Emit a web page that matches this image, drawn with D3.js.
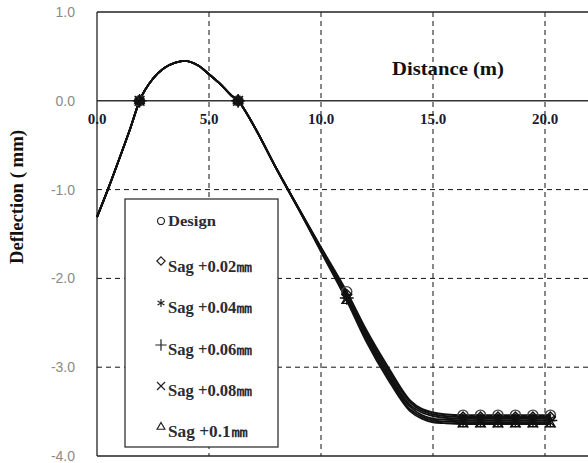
<!DOCTYPE html>
<html>
<head>
<meta charset="utf-8">
<script src="https://cdn.jsdelivr.net/npm/d3@7/dist/d3.min.js"></script>
<style>
  html, body { margin: 0; padding: 0; background: #fff; }
  svg { display: block; overflow: hidden; }
</style>
</head>
<body>
<svg id="chart" width="588" height="463"></svg>
<script>
// Distance along the specimen (m)
const distance = [0, 0.5, 1.0, 1.5, 1.9, 2.5, 3.0, 3.5, 3.9, 4.5, 5.0, 5.5, 6.0, 6.3,
  7.0, 8.0, 9.0, 10.0, 11.15, 12.0, 13.0, 14.0, 14.5, 15.0, 15.5,
  16.34, 17.12, 17.9, 18.68, 19.46, 20.24];

// Deflection (mm) for each case
const design = [-1.31, -0.99, -0.65, -0.30, 0.00, 0.25, 0.37, 0.43, 0.45, 0.40, 0.30, 0.19, 0.06, 0.00,
  -0.28, -0.76, -1.21, -1.65, -2.15, -2.57, -3.00, -3.38, -3.47, -3.51, -3.53,
  -3.54, -3.54, -3.54, -3.54, -3.54, -3.54];
const sag002 = [-1.31, -0.99, -0.65, -0.30, 0.00, 0.25, 0.37, 0.43, 0.45, 0.40, 0.30, 0.19, 0.06, 0.00,
  -0.28, -0.76, -1.21, -1.66, -2.18, -2.60, -3.03, -3.40, -3.49, -3.53, -3.55,
  -3.56, -3.56, -3.56, -3.56, -3.56, -3.56];
const sag004 = [-1.31, -0.99, -0.65, -0.30, 0.00, 0.25, 0.37, 0.43, 0.45, 0.40, 0.30, 0.19, 0.06, 0.00,
  -0.28, -0.76, -1.21, -1.67, -2.20, -2.62, -3.06, -3.43, -3.51, -3.55, -3.57,
  -3.58, -3.58, -3.58, -3.58, -3.58, -3.58];
const sag006 = [-1.31, -0.99, -0.65, -0.30, 0.00, 0.25, 0.37, 0.43, 0.45, 0.40, 0.30, 0.19, 0.06, 0.00,
  -0.28, -0.76, -1.22, -1.68, -2.22, -2.65, -3.09, -3.45, -3.54, -3.58, -3.59,
  -3.60, -3.60, -3.60, -3.60, -3.60, -3.60];
const sag008 = [-1.31, -0.99, -0.65, -0.30, 0.00, 0.25, 0.37, 0.43, 0.45, 0.40, 0.30, 0.19, 0.06, 0.00,
  -0.28, -0.76, -1.22, -1.69, -2.23, -2.67, -3.11, -3.48, -3.56, -3.60, -3.61,
  -3.62, -3.62, -3.62, -3.62, -3.62, -3.62];
const sag010 = [-1.31, -0.99, -0.65, -0.30, 0.00, 0.25, 0.37, 0.43, 0.45, 0.40, 0.30, 0.19, 0.06, 0.00,
  -0.28, -0.76, -1.22, -1.70, -2.25, -2.70, -3.14, -3.50, -3.58, -3.62, -3.63,
  -3.64, -3.64, -3.64, -3.64, -3.64, -3.64];

// Measurement points where markers are shown
const markerDistance = [1.9, 6.3, 11.15, 16.34, 17.12, 17.9, 18.68, 19.46, 20.24];

const seriesNames = ["Design", "Sag +0.02\u339c", "Sag +0.04\u339c", "Sag +0.06\u339c", "Sag +0.08\u339c", "Sag +0.1\u339c"];
const seriesValues = [design, sag002, sag004, sag006, sag008, sag010];

const xTicks = [0, 5, 10, 15, 20];
const yTicks = [1, 0, -1, -2, -3, -4];

const symbolTypes = [d3.symbolCircle, d3.symbolDiamond2, d3.symbolAsterisk, d3.symbolPlus, d3.symbolX, d3.symbolTriangle2];

const svg = d3.select("#chart");
const plotLeft = 97, plotTop = 12, plotBottom = 456;

const x = d3.scaleLinear().domain([0, 22.5]).range([plotLeft, plotLeft + 22.5 * 22.4]);
const y = d3.scaleLinear().domain([1, -4]).range([plotTop, plotBottom]);
const plotRight = x(22.5);

const serif = "'Liberation Serif', 'Times New Roman', serif";

// dashed grid
const grid = svg.append("g").attr("stroke", "#111").attr("stroke-width", 1).attr("stroke-dasharray", "5,4");
grid.selectAll("line.v").data(xTicks.filter(d => d > 0)).join("line").attr("class", "v")
  .attr("x1", d => x(d)).attr("x2", d => x(d)).attr("y1", plotTop).attr("y2", plotBottom);
grid.selectAll("line.h").data(yTicks.filter(d => d < 0 && d > -4)).join("line").attr("class", "h")
  .attr("x1", plotLeft).attr("x2", plotRight).attr("y1", d => y(d)).attr("y2", d => y(d));

// zero line acting as the distance axis
svg.append("line").attr("x1", plotLeft).attr("x2", plotRight).attr("y1", y(0)).attr("y2", y(0))
  .attr("stroke", "#333").attr("stroke-width", 1.5);

// frame
svg.append("line").attr("x1", plotLeft).attr("x2", plotRight).attr("y1", plotTop).attr("y2", plotTop)
  .attr("stroke", "#222").attr("stroke-width", 1.3);
svg.append("line").attr("x1", plotLeft).attr("x2", plotRight).attr("y1", plotBottom).attr("y2", plotBottom)
  .attr("stroke", "#222").attr("stroke-width", 1.3);
svg.append("line").attr("x1", plotLeft).attr("x2", plotLeft).attr("y1", plotTop).attr("y2", plotBottom)
  .attr("stroke", "#222").attr("stroke-width", 1.3);

// deflection curves
const line = d3.line().x((d, i) => x(distance[i])).y(d => y(d)).curve(d3.curveMonotoneX);
svg.append("g").selectAll("path").data(seriesValues).join("path")
  .attr("d", d => line(d))
  .attr("fill", "none").attr("stroke", "#111").attr("stroke-width", 1.9);

// markers at measurement points
const sym = d3.symbol();
seriesValues.forEach((vals, s) => {
  const pts = distance.map((dx, i) => [dx, vals[i]]).filter(p => markerDistance.includes(p[0]));
  svg.append("g").selectAll("path").data(pts).join("path")
    .attr("transform", p => `translate(${x(p[0])},${y(p[1])})`)
    .attr("d", sym.type(symbolTypes[s]).size(s === 0 ? 80 : 64)())
    .attr("fill", "none").attr("stroke", s === 0 ? "#444" : "#111").attr("stroke-width", 1.4);
});

// y tick labels
svg.append("g").selectAll("text").data(yTicks).join("text")
  .attr("x", 75).attr("y", d => y(d) + 5)
  .attr("text-anchor", "end")
  .attr("font-family", "'Liberation Sans', Arial, sans-serif").attr("font-size", 14)
  .attr("fill", "#8a8a8a")
  .text(d => d3.format(".1f")(d).replace("\u2212", "-"));

// x tick labels
svg.append("g").selectAll("text").data(xTicks).join("text")
  .attr("x", d => x(d)).attr("y", y(0) + 23)
  .attr("text-anchor", "middle")
  .attr("font-family", serif).attr("font-size", 15).attr("font-weight", "bold")
  .attr("fill", "#1a1a2e")
  .text(d => d3.format(".1f")(d));

// axis titles
svg.append("text").attr("x", 392).attr("y", 75)
  .attr("font-family", serif).attr("font-size", 18).attr("font-weight", "bold").attr("fill", "#111")
  .attr("textLength", 112).attr("lengthAdjust", "spacingAndGlyphs")
  .text("Distance (m)");
svg.append("text").attr("transform", "translate(23,197) rotate(-90)")
  .attr("text-anchor", "middle")
  .attr("font-family", serif).attr("font-size", 18).attr("font-weight", "bold").attr("fill", "#111")
  .attr("textLength", 134).attr("lengthAdjust", "spacingAndGlyphs")
  .text("Deflection ( mm)");

// legend
const legend = svg.append("g");
legend.append("rect").attr("x", 125).attr("y", 199).attr("width", 153).attr("height", 248)
  .attr("fill", "#fff").attr("stroke", "#333").attr("stroke-width", 1.3);
const rowBase = [226, 272, 313, 355, 396, 437];
const rowSym = [221, 261, 303, 345, 386, 427];
const rowLen = [48, 85, 85, 85, 85, 80];
seriesNames.forEach((name, i) => {
  legend.append("path")
    .attr("transform", `translate(161,${rowSym[i]})`)
    .attr("d", sym.type(symbolTypes[i]).size(i === 0 ? 38 : 44)())
    .attr("fill", "none").attr("stroke", "#222").attr("stroke-width", 1.2);
  legend.append("text").attr("x", 168).attr("y", rowBase[i])
    .attr("font-family", serif).attr("font-size", i === 0 ? 15 : 17).attr("font-weight", "bold")
    .attr("fill", "#2b2b33")
    .attr("textLength", rowLen[i]).attr("lengthAdjust", "spacingAndGlyphs")
    .text(name);
});
</script>
</body>
</html>
